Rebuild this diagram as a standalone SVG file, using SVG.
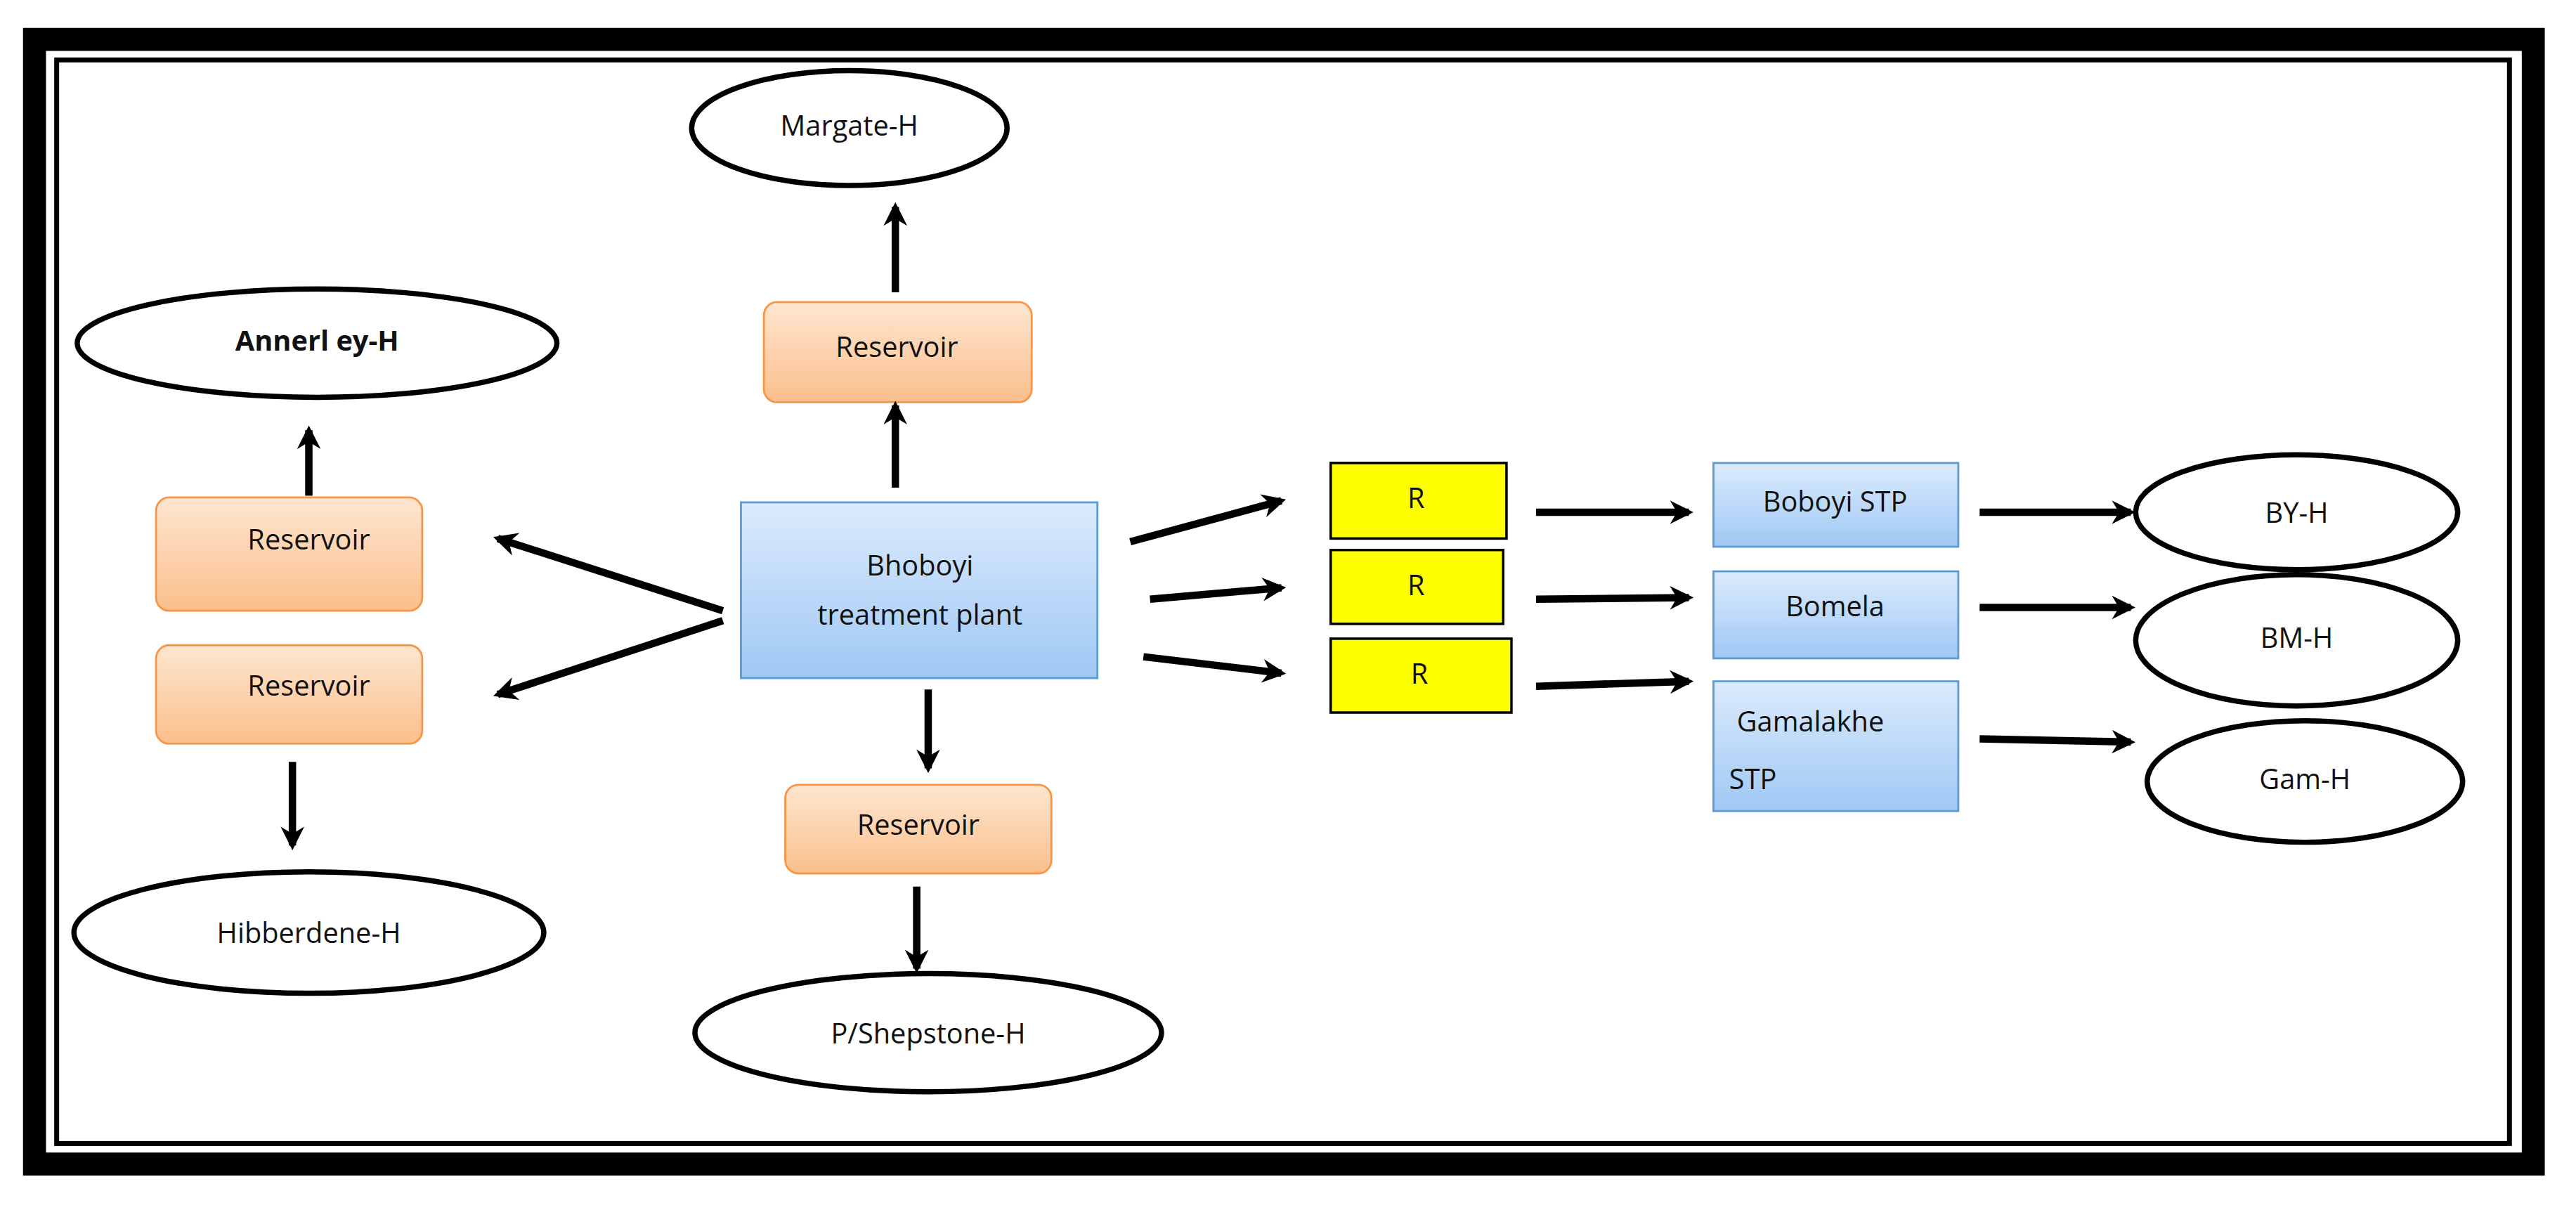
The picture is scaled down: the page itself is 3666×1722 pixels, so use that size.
<svg xmlns="http://www.w3.org/2000/svg" width="3666" height="1722" viewBox="0 0 3666 1722">
<defs>
<linearGradient id="og" x1="0" y1="0" x2="0" y2="1"><stop offset="0" stop-color="#fee6d0"/><stop offset="1" stop-color="#fbbf8c"/></linearGradient>
<linearGradient id="bg" x1="0" y1="0" x2="0" y2="1"><stop offset="0" stop-color="#dcebfd"/><stop offset="1" stop-color="#9fc8f4"/></linearGradient>
<marker id="ah" viewBox="0 0 10 10" refX="8" refY="5" markerWidth="3.2" markerHeight="3.2" orient="auto" markerUnits="strokeWidth"><path d="M0,0 L10,5 L0,10 L3,5 Z" fill="#000"/></marker>
</defs>
<style>
.ell{fill:#fff;stroke:#000;stroke-width:3.2}
.res{fill:url(#og);stroke:#f79646;stroke-width:1.2}
.blu{fill:url(#bg);stroke:#5b9bd5;stroke-width:1.2}
.yel{fill:#ffff00;stroke:#000;stroke-width:1.5}
.t{font-family:"Open Sans","Liberation Sans",sans-serif;font-size:17px;fill:#111;text-anchor:middle;dominant-baseline:middle}
.c line{stroke:#000;stroke-width:4.5;marker-end:url(#ah)}
</style>
<rect width="3666" height="1722" fill="#fff"/>
<g transform="scale(2.338,2.3365)">
<g id="frame">
<rect x="21" y="24" width="1521" height="685" fill="none" stroke="#000" stroke-width="14"/>
<rect x="34.5" y="36.5" width="1493" height="660" fill="none" stroke="#000" stroke-width="3"/>
</g>
<g id="margate"><ellipse class="ell" cx="517" cy="78" rx="96" ry="35"/><text class="t" x="517" y="78">Margate-H</text></g>
<g id="res-top"><rect class="res" x="465" y="184" width="163" height="61" rx="8"/><text class="t" x="546" y="213">Reservoir</text></g>
<g id="annerley"><ellipse class="ell" cx="193" cy="209" rx="146" ry="33"/><text class="t" x="193" y="209" font-weight="bold">Annerl ey-H</text></g>
<g id="res-l1"><rect class="res" x="95" y="303" width="162" height="69" rx="8"/><text class="t" x="188" y="330">Reservoir</text></g>
<g id="res-l2"><rect class="res" x="95" y="393" width="162" height="60" rx="8"/><text class="t" x="188" y="419">Reservoir</text></g>
<g id="bhoboyi"><rect class="blu" x="451" y="306" width="217" height="107"/><text class="t" x="560" y="346">Bhoboyi</text><text class="t" x="560" y="376">treatment plant</text></g>
<g id="res-bot"><rect class="res" x="478" y="478" width="162" height="54" rx="8"/><text class="t" x="559" y="504">Reservoir</text></g>
<g id="hibberdene"><ellipse class="ell" cx="188" cy="568" rx="143" ry="37"/><text class="t" x="188" y="570">Hibberdene-H</text></g>
<g id="pshepstone"><ellipse class="ell" cx="565" cy="629" rx="142" ry="36"/><text class="t" x="565" y="631">P/Shepstone-H</text></g>
<g id="r1"><rect class="yel" x="810" y="282" width="107" height="46"/><text class="t" x="862" y="305">R</text></g>
<g id="r2"><rect class="yel" x="810" y="335" width="105" height="45"/><text class="t" x="862" y="358">R</text></g>
<g id="r3"><rect class="yel" x="810" y="389" width="110" height="45"/><text class="t" x="864" y="412">R</text></g>
<g id="boboyi"><rect class="blu" x="1043" y="282" width="149" height="51"/><text class="t" x="1117" y="307">Boboyi STP</text></g>
<g id="bomela"><rect class="blu" x="1043" y="348" width="149" height="53"/><text class="t" x="1117" y="371">Bomela</text></g>
<g id="gamalakhe"><rect class="blu" x="1043" y="415" width="149" height="79"/><text class="t" x="1102" y="441">Gamalakhe</text><text class="t" x="1067" y="476">STP</text></g>
<g id="byh"><ellipse class="ell" cx="1398" cy="312" rx="98" ry="35"/><text class="t" x="1398" y="314">BY-H</text></g>
<g id="bmh"><ellipse class="ell" cx="1398" cy="390" rx="98" ry="40"/><text class="t" x="1398" y="390">BM-H</text></g>
<g id="gamh"><ellipse class="ell" cx="1403" cy="476" rx="96" ry="37"/><text class="t" x="1403" y="476">Gam-H</text></g>
<g id="connectors" class="c">
<line x1="545" y1="178" x2="545" y2="126"/>
<line x1="545" y1="297" x2="545" y2="247"/>
<line x1="188" y1="302" x2="188" y2="262"/>
<line x1="440" y1="372" x2="303" y2="328"/>
<line x1="440" y1="378" x2="303" y2="423"/>
<line x1="178" y1="464" x2="178" y2="515"/>
<line x1="565" y1="420" x2="565" y2="468"/>
<line x1="558" y1="540" x2="558" y2="590"/>
<line x1="688" y1="330" x2="780" y2="305"/>
<line x1="700" y1="365" x2="780" y2="358"/>
<line x1="696" y1="400" x2="780" y2="410"/>
<line x1="935" y1="312" x2="1028" y2="312"/>
<line x1="935" y1="365" x2="1028" y2="364"/>
<line x1="935" y1="418" x2="1028" y2="415"/>
<line x1="1205" y1="312" x2="1297" y2="312"/>
<line x1="1205" y1="370" x2="1297" y2="370"/>
<line x1="1205" y1="450" x2="1297" y2="452"/>
</g>
</g>
</svg>
